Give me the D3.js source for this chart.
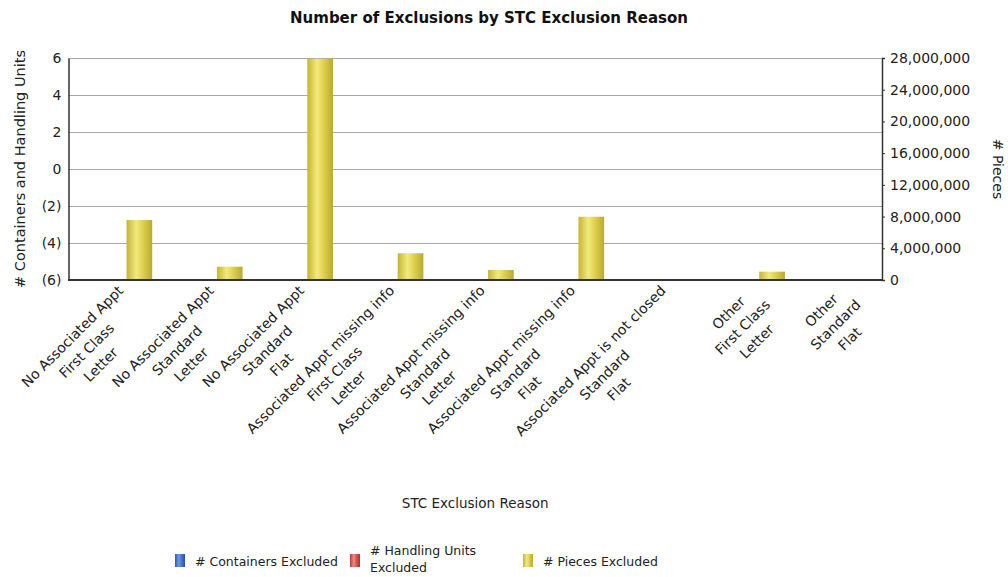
<!DOCTYPE html>
<html>
<head>
<meta charset="utf-8">
<script src="https://cdn.jsdelivr.net/npm/d3@7"></script>
<style>
html,body{margin:0;padding:0;background:#fff;}
svg{display:block;font-family:"DejaVu Sans",Verdana,sans-serif;}
</style>
</head>
<body>
<svg id="chart" width="1008" height="577"></svg>
<script>
// ---- data ----
const categories = [
  ["No Associated Appt", "First Class", "Letter"],
  ["No Associated Appt", "Standard", "Letter"],
  ["No Associated Appt", "Standard", "Flat"],
  ["Associated Appt missing info", "First Class", "Letter"],
  ["Associated Appt missing info", "Standard", "Letter"],
  ["Associated Appt missing info", "Standard", "Flat"],
  ["Associated Appt is not closed", "Standard", "Flat"],
  ["Other", "First Class", "Letter"],
  ["Other", "Standard", "Flat"]
];
const containersExcluded = [0, 0, 0, 0, 0, 0, 0, 0, 0];
const handlingUnitsExcluded = [0, 0, 0, 0, 0, 0, 0, 0, 0];
const piecesExcluded = [7570000, 1680000, 27900000, 3370000, 1260000, 7980000, 0, 1050000, 0];
const seriesNames = ["# Containers Excluded", "# Handling Units Excluded", "# Pieces Excluded"];
const leftTicks = [-6, -4, -2, 0, 2, 4, 6];
const rightTicks = [0, 4000000, 8000000, 12000000, 16000000, 20000000, 24000000, 28000000];

// ---- layout ----
const svg = d3.select("#chart");
const L = 68.5, R = 882, T = 58, B = 280;

const x0 = d3.scaleBand().domain(d3.range(categories.length)).range([L, R]).padding(0);
const groupW = 77;
const x1 = d3.scaleBand().domain([0, 1, 2])
  .range([x0.bandwidth() / 2 - groupW / 2, x0.bandwidth() / 2 + groupW / 2]).padding(0);
const yL = d3.scaleLinear().domain([-6, 6]).range([B, T]);
const yR = d3.scaleLinear().domain([0, 28000000]).range([B, T]);

// gradients
const defs = svg.append("defs");
function cyl(id, c0, c1, c2, c3) {
  const g = defs.append("linearGradient").attr("id", id).attr("x1", "0%").attr("x2", "100%").attr("y1", "0%").attr("y2", "0%");
  g.append("stop").attr("offset", "0%").attr("stop-color", c0);
  g.append("stop").attr("offset", "38%").attr("stop-color", c1);
  g.append("stop").attr("offset", "62%").attr("stop-color", c2);
  g.append("stop").attr("offset", "100%").attr("stop-color", c3);
}
cyl("gY", "#c4b532", "#f2e97e", "#e0d250", "#b9aa2e");
cyl("gB", "#2a5bb0", "#6f9ae0", "#4a7bd0", "#2550a0");
cyl("gR", "#b83a3a", "#f08a84", "#d85a55", "#a83232");
const fills = ["url(#gB)", "url(#gR)", "url(#gY)"];

// gridlines
svg.append("g").selectAll("line").data(leftTicks).join("line")
  .attr("x1", L).attr("x2", R)
  .attr("y1", d => yL(d) + 0.5).attr("y2", d => yL(d) + 0.5)
  .attr("stroke", "#a6a6a6").attr("stroke-width", 1);

// bars
const seriesVals = [containersExcluded, handlingUnitsExcluded, piecesExcluded];
const scales = [yL, yL, yR];
seriesVals.forEach((vals, s) => {
  const sc = scales[s];
  svg.append("g").selectAll("rect").data(vals).join("rect")
    .attr("x", (d, i) => x0(i) + x1(s))
    .attr("width", x1.bandwidth())
    .attr("y", d => Math.min(sc(d), sc(0)))
    .attr("height", d => Math.abs(sc(d) - sc(0)))
    .attr("fill", fills[s]);
});

// left axis
const fmtL = d => d < 0 ? "(" + Math.abs(d) + ")" : String(d);
const axL = svg.append("g").attr("transform", `translate(${L},0)`)
  .call(d3.axisLeft(yL).tickValues(leftTicks).tickFormat(fmtL).tickSize(0).tickPadding(7));
axL.select(".domain").attr("stroke", "#333").attr("stroke-width", 1.5);
axL.selectAll("text").attr("font-size", 14).attr("fill", "#222").attr("font-family", "DejaVu Sans");

// right axis
const axR = svg.append("g").attr("transform", `translate(${R},0)`)
  .call(d3.axisRight(yR).tickValues(rightTicks).tickFormat(d3.format(",")).tickSize(3).tickPadding(5));
axR.select(".domain").attr("stroke", "#333").attr("stroke-width", 1.5);
axR.selectAll(".tick line").attr("stroke", "#333");
axR.selectAll("text").attr("font-size", 14).attr("fill", "#222").attr("font-family", "DejaVu Sans");

// bottom axis line
svg.append("line").attr("x1", L - 0.5).attr("x2", R + 0.5).attr("y1", B).attr("y2", B)
  .attr("stroke", "#333").attr("stroke-width", 2);

// x category labels (multi-line, rotated -45)
const lh = 20;
const lab = svg.append("g").attr("font-size", 14).attr("fill", "#222");
categories.forEach((lines, i) => {
  const cx = x0(i) + x0.bandwidth() / 2;
  const g = lab.append("g").attr("transform", `translate(${cx + 7},${B + 8}) rotate(-45)`);
  const ts = lines.map((t, k) => g.append("text").attr("text-anchor", "middle").attr("y", 5 + k * lh).text(t));
  const W = d3.max(ts, t => t.node().getComputedTextLength());
  ts.forEach(t => t.attr("x", -W / 2));
});

// titles
svg.append("text").attr("x", 489).attr("y", 23).attr("text-anchor", "middle")
  .attr("font-size", 15).attr("font-weight", "bold").attr("fill", "#111")
  .text("Number of Exclusions by STC Exclusion Reason");
svg.append("text").attr("x", (L + R) / 2).attr("y", 508).attr("text-anchor", "middle")
  .attr("font-size", 13.5).attr("fill", "#222").text("STC Exclusion Reason");
svg.append("text").attr("transform", `translate(25,${(T + B) / 2}) rotate(-90)`).attr("text-anchor", "middle")
  .attr("font-size", 14.5).attr("fill", "#222").text("# Containers and Handling Units");
svg.append("text").attr("transform", `translate(993,${(T + B) / 2}) rotate(90)`).attr("text-anchor", "middle")
  .attr("font-size", 14).attr("fill", "#222").text("# Pieces");

// legend
const legX = [175, 350, 523];
const legLines = [["# Containers Excluded"], ["# Handling Units", "Excluded"], ["# Pieces Excluded"]];
const leg = svg.append("g").attr("font-size", 12.5).attr("fill", "#222");
seriesNames.forEach((n, s) => {
  leg.append("rect").attr("x", legX[s]).attr("y", 554).attr("width", 10).attr("height", 13).attr("fill", fills[s]);
  const ls = legLines[s];
  ls.forEach((t, k) => {
    const yy = ls.length === 1 ? 566 : 555 + k * 17;
    leg.append("text").attr("x", legX[s] + 20).attr("y", yy).text(t);
  });
});
</script>
</body>
</html>
